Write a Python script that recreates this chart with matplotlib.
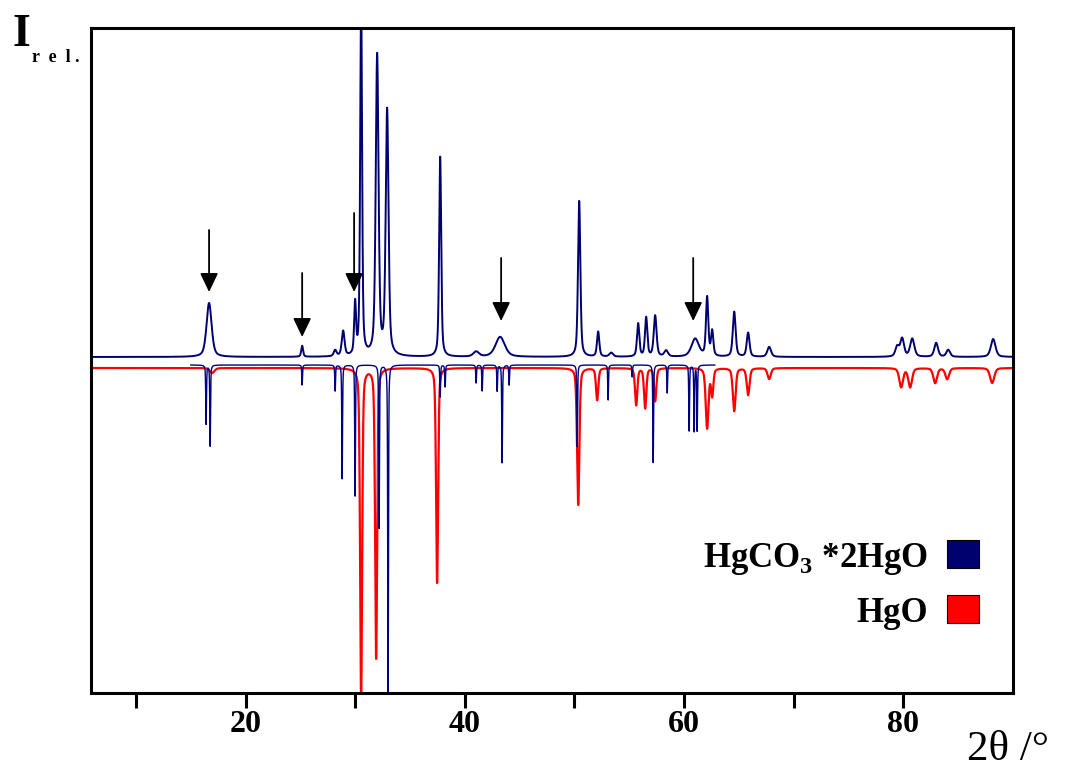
import numpy as np
import matplotlib
matplotlib.use('Agg')
import matplotlib.pyplot as plt
from matplotlib.patches import Rectangle

plt.rcParams['font.family'] = ['Liberation Serif', 'DejaVu Serif']
plt.rcParams['mathtext.fontset'] = 'custom'
plt.rcParams['mathtext.rm'] = 'Liberation Serif:bold'
plt.rcParams['mathtext.bf'] = 'Liberation Serif:bold'

# scan range (2theta, degrees)
tt_min, tt_max = 5.9, 90.0

# HgCO3*2HgO, measured (peak position, height, fwhm)
blue_pos = [16.67, 25.16, 28.17, 28.90, 29.99, 30.54, 32.00, 32.91, 37.75, 41.03,
            43.22, 50.43, 52.16, 53.35, 55.81, 56.54, 57.36, 58.36, 61.01, 62.10,
            62.56, 64.57, 65.84, 67.76, 79.44, 79.89, 80.81, 82.99, 84.09, 88.19]
blue_height = [54, 11, 6, 25, 51, 360, 300, 245, 200, 5,
               20, 156, 25, 4, 33, 39, 41, 6, 18, 59,
               25, 45, 24, 10, 10, 18, 18, 14, 7, 18]
blue_fwhm = [0.55, 0.2, 0.3, 0.3, 0.2, 0.2, 0.3, 0.3, 0.22, 0.6,
             1.0, 0.25, 0.25, 0.4, 0.25, 0.25, 0.3, 0.4, 0.8, 0.25,
             0.25, 0.3, 0.3, 0.4, 0.4, 0.4, 0.45, 0.4, 0.4, 0.5]

# HgO, measured (drawn downwards)
red_pos = [16.95, 30.54, 31.91, 37.47, 50.34, 52.07, 55.63, 56.45, 57.36, 62.10,
           62.56, 64.57, 65.84, 67.76, 79.80, 80.62, 82.90, 84.00, 88.10]
red_height = [5, 330, 290, 215, 137, 32, 37, 40, 33, 60,
              27, 43, 27, 11, 19, 19, 15, 11, 15]
red_fwhm = [0.5, 0.22, 0.22, 0.22, 0.25, 0.25, 0.25, 0.25, 0.25, 0.3,
            0.25, 0.3, 0.3, 0.35, 0.4, 0.4, 0.4, 0.4, 0.45]

# HgCO3*2HgO, reference pattern (drawn downwards, narrow lines)
ref_range = (15.0, 62.8)
ref_pos = [16.40, 16.77, 25.16, 28.17, 28.81, 29.99, 32.18, 33.00, 37.75, 38.20,
           41.03, 41.58, 42.95, 43.40, 44.04, 50.25, 53.07, 55.26, 57.18, 58.46,
           60.46, 60.92, 61.19]
ref_height = [59, 81, 20, 26, 114, 131, 164, 340, 32, 22,
              18, 26, 26, 98, 20, 82, 35, 12, 98, 28,
              66, 66, 66]

# marked peaks (arrows): position, arrow tip, arrow tail
arrow_pos = [16.67, 25.16, 29.90, 43.31, 60.83]
arrow_tip = [65, 20, 65, 36, 36]
arrow_tail = [127, 84, 144, 99, 99]


def pseudo_voigt(x, pos, height, fwhm, eta):
    y = np.zeros_like(x)
    for p, h, w in zip(pos, height, fwhm):
        d = (x - p) / w
        y += h * (eta / (1 + 4 * d ** 2) + (1 - eta) * np.exp(-4 * np.log(2) * d ** 2))
    return y


tt = np.linspace(tt_min, tt_max, 12000)
blue = pseudo_voigt(tt, blue_pos, blue_height, blue_fwhm, 0.5)
red = -11 - pseudo_voigt(tt, red_pos, red_height, red_fwhm, 0.4)
tt_ref = tt[(tt >= ref_range[0]) & (tt <= ref_range[1])]
ref = -8 - pseudo_voigt(tt_ref, ref_pos, ref_height, [0.08] * len(ref_pos), 0.5)

fig = plt.figure(figsize=(10.65, 7.71), dpi=100)
ax = fig.add_axes([91 / 1065, 1 - 693 / 771, 922 / 1065, 665 / 771])

ax.plot(tt, blue, color='#00006e', lw=1.4)
ax.plot(tt, red, color='#ff0000', lw=1.6)
ax.plot(tt_ref, ref, color='#000080', lw=1.0)

for x, y0, y1 in zip(arrow_pos, arrow_tip, arrow_tail):
    ax.annotate('', xy=(x, y0), xytext=(x, y1),
                arrowprops=dict(arrowstyle='-|>,head_length=1.15,head_width=0.55',
                                color='black', lw=1.3, shrinkA=0, shrinkB=0,
                                mutation_scale=10))

ax.set_xlim(tt_min, tt_max)
ax.set_ylim(-336, 329)
ax.set_yticks([])
ax.set_xticks([20, 40, 60, 80])
ax.set_xticks([10, 30, 50, 70], minor=True)
ax.tick_params(axis='x', which='both', direction='out', length=11, width=2.2,
               labelsize=23, pad=1, top=False)
for lab in ax.get_xticklabels():
    lab.set_fontweight('bold')
for sp in ax.spines.values():
    sp.set_linewidth(2.2)

# legend drawn by hand, right aligned next to the colour boxes
ax.text(0.9078, 0.1895, 'HgCO$_\\mathregular{3}$ *2HgO', transform=ax.transAxes,
        ha='right', va='baseline', fontsize=25, fontweight='bold')
ax.text(0.9078, 0.1068, 'HgO', transform=ax.transAxes,
        ha='right', va='baseline', fontsize=25, fontweight='bold')
ax.add_patch(Rectangle((0.9284, 0.188), 0.0347, 0.0421, transform=ax.transAxes,
                       facecolor='#00006e', edgecolor='black', lw=0.8))
ax.add_patch(Rectangle((0.9284, 0.1053), 0.0347, 0.0421, transform=ax.transAxes,
                       facecolor='#ff0000', edgecolor='black', lw=0.8))

fig.text(13 / 1065, 1 - 46 / 771, 'I', fontsize=33, fontweight='bold', va='baseline')
fig.text(32 / 1065, 1 - 62 / 771, 'r  e  l .', fontsize=13, fontweight='bold', va='baseline')
fig.text(967 / 1065, 1 - 760 / 771, '2θ /°', fontsize=31, va='baseline')

fig.savefig('out.png', dpi=100)
